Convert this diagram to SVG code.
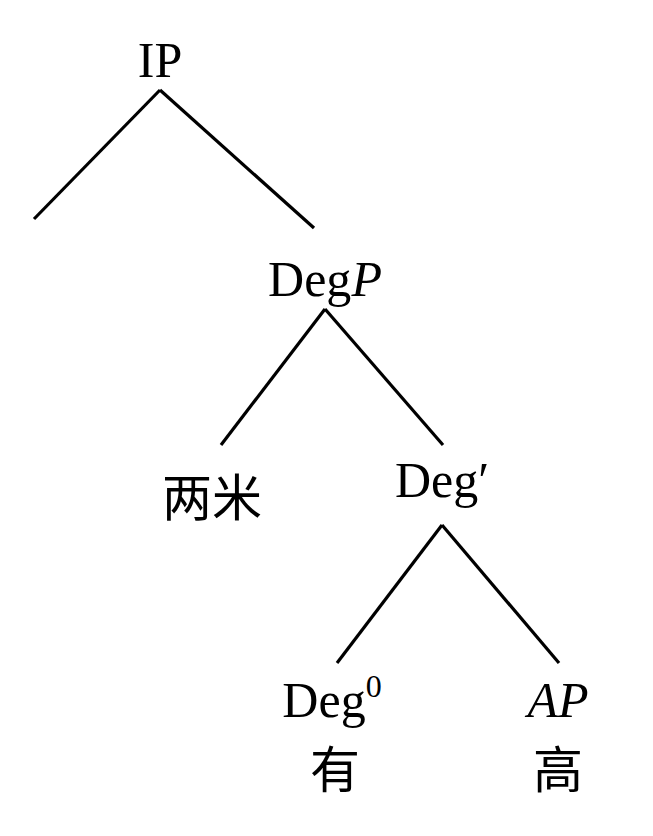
<svg xmlns="http://www.w3.org/2000/svg" width="653" height="836" viewBox="0 0 653 836">
<style>
.t{font-family:"Liberation Serif","Noto Sans CJK SC",serif;font-size:50px;fill:#000;text-anchor:middle}
.c{font-family:"Noto Sans CJK SC",sans-serif;font-size:50px;fill:#000;text-anchor:middle}
.i{font-style:italic}
.e{stroke:#000;stroke-width:3.2;fill:none;stroke-linecap:butt}
</style>
<rect width="653" height="836" fill="#fff"/>
<g id="connectors">
<line class="e" x1="160" y1="90" x2="34" y2="219"/>
<line class="e" x1="160" y1="90" x2="314" y2="228"/>
<line class="e" x1="325" y1="309" x2="221" y2="445"/>
<line class="e" x1="325" y1="309" x2="443" y2="445"/>
<line class="e" x1="442" y1="525" x2="337" y2="663"/>
<line class="e" x1="442" y1="525" x2="559" y2="663"/>
</g>
<g id="IP"><text class="t" x="160" y="77">IP</text></g>
<g id="DegP"><text class="t" x="325" y="296">Deg<tspan class="i">P</tspan></text></g>
<g id="liangmi"><text class="c" x="212" y="516">两米</text></g>
<g id="DegBar"><text class="t" x="442" y="497">Deg′</text></g>
<g id="Deg0"><text class="t" x="332" y="717">Deg<tspan font-size="32" dy="-20">0</tspan></text></g>
<g id="AP"><text class="t i" x="558" y="717">AP</text></g>
<g id="you"><text class="c" x="335" y="788">有</text></g>
<g id="gao"><text class="c" x="558" y="788">高</text></g>
</svg>
